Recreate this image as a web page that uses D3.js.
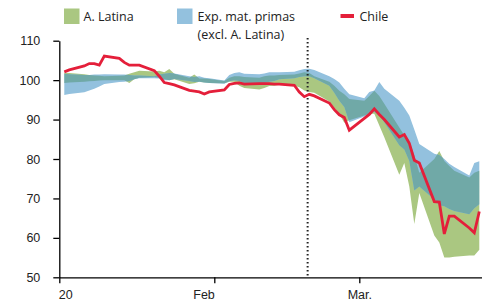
<!DOCTYPE html>
<html>
<head>
<meta charset="utf-8">
<script src="https://cdn.jsdelivr.net/npm/d3@7"></script>
<style>
  body { margin: 0; background: #fff; }
  svg { display: block; font-family: "Open Sans", "Noto Sans", sans-serif; }
  .axis text { font-size: 12.5px; fill: #222; }
  .axis path, .axis line { stroke: #000; stroke-width: 1.3; }
</style>
</head>
<body>
<div id="chart"></div>
<script>
// fechas (días hábiles 2020)
var dates = [
  "2020-01-02","2020-01-03","2020-01-06","2020-01-07","2020-01-08","2020-01-09","2020-01-10",
  "2020-01-13","2020-01-14","2020-01-15","2020-01-16","2020-01-17","2020-01-20","2020-01-21",
  "2020-01-22","2020-01-23","2020-01-24","2020-01-27","2020-01-28","2020-01-29","2020-01-30",
  "2020-01-31","2020-02-03","2020-02-04","2020-02-05","2020-02-06","2020-02-07","2020-02-10",
  "2020-02-11","2020-02-12","2020-02-13","2020-02-14","2020-02-17","2020-02-18","2020-02-19",
  "2020-02-20","2020-02-21","2020-02-24","2020-02-25","2020-02-26","2020-02-27","2020-02-28",
  "2020-03-02","2020-03-03","2020-03-04","2020-03-05","2020-03-06","2020-03-09","2020-03-10",
  "2020-03-11","2020-03-12","2020-03-13","2020-03-16","2020-03-17","2020-03-18","2020-03-19",
  "2020-03-20","2020-03-23","2020-03-24","2020-03-25"
];
var chile = [
  102.1,102.6,103.6,104.2,104.2,103.8,106.1,105.5,104.5,103.8,103.8,103.8,102.4,101.0,
  99.4,99.1,98.8,97.4,97.2,97.0,96.5,97.0,97.5,98.9,99.2,99.3,99.0,99.1,
  99.1,99.1,99.0,99.0,98.7,97.0,95.8,96.4,96.0,94.2,92.5,91.2,90.5,87.3,
  90.3,91.3,92.7,91.3,90.0,85.6,86.2,84.0,79.7,79.0,69.2,69.1,61.0,65.5,
  65.5,62.5,61.3,66.7
];
// banda A. Latina (mín / máx)
var latLo = [
  99.3,99.4,99.6,99.7,99.8,99.9,100.0,100.0,100.0,99.3,100.2,100.6,100.8,100.6,
  100.2,100.0,100.2,99.0,99.2,99.6,99.4,99.3,99.2,99.6,99.6,98.6,98.0,97.6,
  98.0,98.5,98.6,98.8,98.6,98.2,97.4,97.0,96.8,94.6,93.0,91.4,89.2,89.8,
  91.0,91.5,91.5,88.5,85.5,76.0,79.0,73.0,63.5,71.4,60.6,58.8,55.0,55.0,
  55.2,55.5,55.5,57.0
];
var latHi = [
  101.9,101.8,101.5,101.3,101.2,101.1,101.0,101.1,101.2,101.6,102.0,102.4,102.2,102.4,
  102.0,102.8,101.6,100.6,101.4,100.4,100.4,100.3,99.8,100.6,101.0,101.0,100.8,100.6,
  101.0,101.2,101.2,101.3,101.4,101.7,102.0,101.8,101.0,99.6,98.6,97.3,96.4,95.2,
  94.8,96.0,97.3,96.0,94.0,88.0,86.0,84.5,81.0,76.5,80.0,82.0,79.5,78.2,
  77.0,75.3,76.5,77.0
];
// banda exportadores de materias primas (excl. A. Latina)
var expLo = [
  96.2,96.5,96.9,97.4,97.8,98.4,99.0,99.5,99.6,99.8,100.2,100.5,100.5,100.4,
  100.0,100.0,100.3,99.8,99.5,99.6,99.4,99.3,99.1,99.7,100.0,99.8,99.2,98.8,
  99.3,99.6,99.8,100.2,100.5,100.8,101.0,101.0,100.5,98.6,96.8,94.8,93.2,89.3,
  90.8,91.5,92.0,91.0,89.3,83.5,82.4,79.5,72.0,73.0,69.7,68.3,68.0,67.3,
  66.8,66.0,67.5,68.5
];
var expHi = [
  101.6,101.5,101.3,101.3,101.4,101.4,101.5,101.4,101.4,101.3,101.2,101.2,101.0,101.4,
  101.6,101.8,101.7,101.0,100.8,101.0,100.6,100.5,99.9,101.3,101.8,102.0,101.6,101.5,
  101.7,102.0,102.0,102.0,102.1,102.5,102.8,102.9,102.6,101.0,100.3,99.4,97.8,96.4,
  95.4,97.0,97.4,99.5,97.8,94.8,93.0,91.0,87.5,83.8,81.3,81.0,80.0,78.8,
  78.0,75.8,79.0,79.4
];
var yTicks = [50, 60, 70, 80, 90, 100, 110];
var xTicks = ["2020-01-01", "2020-02-01", "2020-03-01"];
var xTickLabels = ["20", "Feb", "Mar."];
var eventDate = "2020-02-19T16:00";

var width = 482, height = 305;
var parse = d3.isoParse;
var colGreen = "#aac781", colBlue = "#93c1de", colTeal = "#70a9a7", colRed = "#e41f3a";

var svg = d3.select("#chart").append("svg")
    .attr("width", width)
    .attr("height", height);

var x = d3.scaleTime()
    .domain([parse("2020-01-01"), parse("2020-03-26")])
    .range([59.3, 484.3]);
var y = d3.scaleLinear()
    .domain([50, 110])
    .range([277.3, 40.7]);

var rows = dates.map(function (d, i) {
    return { date: parse(d), chile: chile[i], latLo: latLo[i], latHi: latHi[i], expLo: expLo[i], expHi: expHi[i] };
});

var latArea = d3.area().x(function (d) { return x(d.date); })
    .y0(function (d) { return y(d.latLo); }).y1(function (d) { return y(d.latHi); });
var expArea = d3.area().x(function (d) { return x(d.date); })
    .y0(function (d) { return y(d.expLo); }).y1(function (d) { return y(d.expHi); });

svg.append("defs").append("clipPath").attr("id", "latClip")
    .append("path").attr("d", latArea(rows));

svg.append("path").attr("d", latArea(rows)).attr("fill", colGreen);
svg.append("path").attr("d", expArea(rows)).attr("fill", colBlue);
// zona de superposición
svg.append("path").attr("d", expArea(rows)).attr("fill", colTeal).attr("clip-path", "url(#latClip)");

// línea vertical punteada
svg.append("line")
    .attr("x1", x(parse(eventDate))).attr("x2", x(parse(eventDate)))
    .attr("y1", 38).attr("y2", y(50))
    .attr("stroke", "#222").attr("stroke-width", 2)
    .attr("stroke-dasharray", "1.6,2.4");

var line = d3.line().x(function (d) { return x(d.date); }).y(function (d) { return y(d.chile); });
svg.append("path").attr("d", line(rows))
    .attr("fill", "none").attr("stroke", colRed)
    .attr("stroke-width", 2.8).attr("stroke-linejoin", "miter");

// ejes
var yAxis = svg.append("g").attr("class", "axis")
    .attr("transform", "translate(59.3,0)")
    .call(d3.axisLeft(y).tickValues(yTicks).tickSize(6).tickSizeOuter(0).tickPadding(13));

var xAxis = svg.append("g").attr("class", "axis")
    .attr("transform", "translate(0," + y(50) + ")")
    .call(d3.axisBottom(x).tickValues(xTicks.map(parse)).tickSize(6).tickSizeOuter(0)
        .tickFormat(function (d, i) { return xTickLabels[i]; }).tickPadding(7));
var anchors = ["start", "end", "middle"];
var shifts = [-1, 0, 0];
xAxis.selectAll(".tick text")
    .attr("text-anchor", function (d, i) { return anchors[i]; })
    .attr("dx", function (d, i) { return shifts[i]; });

// leyenda
var legend = svg.append("g").attr("font-size", "12.5px").attr("fill", "#222");
legend.append("rect").attr("x", 64).attr("y", 8.5).attr("width", 15.5).attr("height", 15.5).attr("fill", colGreen);
legend.append("text").attr("x", 83.5).attr("y", 21).text("A. Latina");
legend.append("rect").attr("x", 177).attr("y", 8.5).attr("width", 15.5).attr("height", 15.5).attr("fill", colBlue);
legend.append("text").attr("x", 197.5).attr("y", 21).text("Exp. mat. primas");
legend.append("text").attr("x", 197.5).attr("y", 39).text("(excl. A. Latina)");
legend.append("line").attr("x1", 340.5).attr("x2", 354).attr("y1", 16).attr("y2", 16)
    .attr("stroke", colRed).attr("stroke-width", 4);
legend.append("text").attr("x", 359.5).attr("y", 21).text("Chile");
</script>
</body>
</html>
